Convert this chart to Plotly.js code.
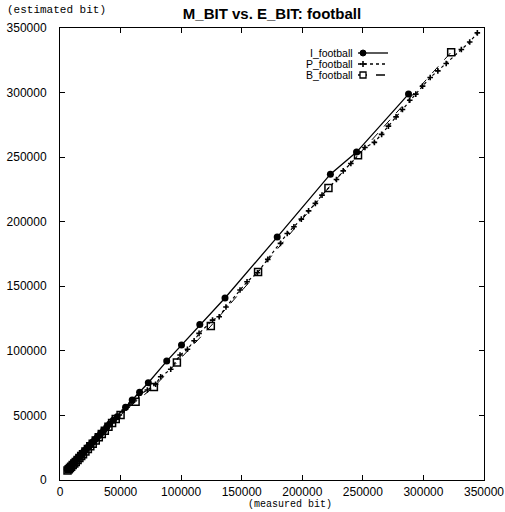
<!DOCTYPE html>
<html>
<head>
<meta charset="utf-8">
<script src="https://cdn.plot.ly/plotly-3.0.1.min.js"></script>
<style>
  html, body { margin: 0; padding: 0; background: #fff; }
  #chart { width: 505px; height: 512px; }
</style>
</head>
<body>
<div id="chart"></div>
<script>
// Measured vs. estimated bit counts for the football sequence, per picture type.
const seriesNames = ["I_football", "P_football", "B_football"];

const iMeasured = [6000, 7000, 8000, 9000, 10000, 11000, 12000, 13500, 15000, 16500, 18000, 19500,
  21000, 23000, 25000, 27000, 29000, 31000, 33500, 36000, 38500, 41000, 44000, 47200, 54100,
  59600, 65700, 72900, 88100, 100300, 115400, 136200, 179300, 223200, 244800, 287700];
const iEstimated = [8400, 9300, 10300, 11200, 12300, 13200, 14300, 15800, 17200, 18800, 20300, 21800,
  23300, 25300, 27300, 29400, 31300, 33400, 35900, 38300, 40900, 43400, 46300, 49000, 56300,
  61900, 67900, 75300, 92100, 104500, 120500, 140900, 188100, 236800, 253900, 298800];

const pMeasured = [6500, 7500, 8500, 9500, 10500, 12000, 13000, 14500, 16000, 17500, 19000, 20500,
  22500, 24500, 26500, 28500, 30500, 33000, 35500, 38000, 40500, 43000, 46000, 49000, 53000,
  57000, 61000, 65000, 72100, 78900, 83100, 91400, 99100, 105200, 110700, 114800, 125900,
  131400, 137000, 148600, 154400, 163000, 171500, 182000, 187600, 193100, 199200, 205200,
  210800, 216300, 228200, 233800, 240100, 251700, 259500, 265500, 271100, 277400, 282700,
  288700, 293700, 299300, 305600, 311900, 318800, 331300, 338200, 344500];
const pEstimated = [8000, 9000, 10000, 11000, 12000, 13500, 14500, 16000, 17500, 19000, 20500, 22000,
  24000, 26000, 28000, 30000, 32000, 34500, 37000, 39500, 42000, 44500, 47500, 50300, 54200,
  58000, 61900, 65600, 69700, 74100, 80000, 85700, 96800, 101200, 107800, 113500, 123800,
  126400, 134000, 147100, 153500, 160500, 170800, 183200, 190900, 196100, 202000, 208400,
  214200, 220600, 232700, 239400, 245100, 257500, 261400, 267600, 274000, 281200, 286900,
  294100, 298800, 305000, 311700, 316800, 322500, 333300, 339200, 346200];

const bMeasured = [6200, 7200, 8200, 9200, 10500, 11800, 13000, 14500, 16000, 17500, 19000, 21000,
  23000, 25000, 27000, 29500, 32000, 34500, 37000, 40000, 43000, 46000, 50000, 62400, 77500,
  96500, 124500, 163500, 221600, 246000, 322900];
const bEstimated = [7400, 8300, 9300, 10300, 11600, 12800, 14000, 15500, 17000, 18500, 20000, 22000,
  24000, 26100, 28100, 30600, 33100, 35600, 38200, 41200, 44200, 47300, 50300, 60600, 72000,
  91000, 119200, 161000, 226200, 251500, 331300];

const tickValues = [0, 50000, 100000, 150000, 200000, 250000, 300000, 350000];
const tickLabels = ["0", "50000", "100000", "150000", "200000", "250000", "300000", "350000"];

const traces = [
  {
    x: bMeasured, y: bEstimated, name: seriesNames[2], type: "scatter", mode: "lines+markers",
    line: { color: "#000", width: 1, dash: "dash" },
    marker: { symbol: "square-open", size: 7, color: "#000", line: { color: "#000", width: 1.5 } }
  },
  {
    x: pMeasured, y: pEstimated, name: seriesNames[1], type: "scatter", mode: "lines+markers",
    line: { color: "#000", width: 1.2, dash: "dot" },
    marker: { symbol: "cross-thin-open", size: 4, color: "#000", line: { color: "#000", width: 1.6 } }
  },
  {
    x: iMeasured, y: iEstimated, name: seriesNames[0], type: "scatter", mode: "lines+markers",
    line: { color: "#000", width: 1.3 },
    marker: { symbol: "circle", size: 7, color: "#000" }
  }
];

// Plot area geometry in pixels, used to place the key and the axis captions.
const W = 505, H = 512, M = { l: 60, r: 21, t: 28, b: 32 };
const PW = W - M.l - M.r, PH = H - M.t - M.b;
const px = v => (v - M.l) / PW;
const py = v => (H - M.b - v) / PH;

// Key: names right-aligned, with the line sample drawn to their right.
const keyRows = [53, 64, 75];
const keyTextRight = 355, keyLine0 = 358, keyLine1 = 388, keyMark = 363;
const keyDash = ["solid", "dot", "dash"];

const annotations = [
  {
    text: "(estimated bit)", xref: "paper", yref: "paper", x: px(5), y: py(10),
    xanchor: "left", yanchor: "middle", showarrow: false,
    font: { family: "Liberation Mono, DejaVu Sans Mono, monospace", size: 11, color: "#000" }
  },
  {
    text: "(measured bit)", xref: "paper", yref: "paper", x: px(290), y: py(505),
    xanchor: "center", yanchor: "middle", showarrow: false,
    font: { family: "Liberation Mono, DejaVu Sans Mono, monospace", size: 10, color: "#000" }
  }
];
const shapes = [];
seriesNames.forEach((name, i) => {
  const yy = keyRows[i];
  annotations.push({
    text: name, xref: "paper", yref: "paper", x: px(keyTextRight), y: py(yy),
    xanchor: "right", yanchor: "middle", showarrow: false,
    font: { family: "Liberation Sans, Arial, sans-serif", size: 10.5, color: "#000" }
  });
  shapes.push({
    type: "line", xref: "paper", yref: "paper",
    x0: px(keyLine0), x1: px(keyLine1), y0: py(yy), y1: py(yy),
    line: { color: "#000", width: 1.3, dash: keyDash[i] }
  });
});
// key symbols
shapes.push({
  type: "circle", xref: "paper", yref: "paper", fillcolor: "#000",
  x0: px(keyMark - 3), x1: px(keyMark + 3), y0: py(keyRows[0] + 3), y1: py(keyRows[0] - 3),
  line: { color: "#000", width: 1 }
});
shapes.push({
  type: "line", xref: "paper", yref: "paper",
  x0: px(keyMark - 3), x1: px(keyMark + 3), y0: py(keyRows[1]), y1: py(keyRows[1]),
  line: { color: "#000", width: 1.6 }
});
shapes.push({
  type: "line", xref: "paper", yref: "paper",
  x0: px(keyMark), x1: px(keyMark), y0: py(keyRows[1] + 3), y1: py(keyRows[1] - 3),
  line: { color: "#000", width: 1.6 }
});
shapes.push({
  type: "rect", xref: "paper", yref: "paper", fillcolor: "#fff",
  x0: px(keyMark - 3), x1: px(keyMark + 3), y0: py(keyRows[2] + 3), y1: py(keyRows[2] - 3),
  line: { color: "#000", width: 1.3 }
});

const axisCommon = {
  range: [0, 350000], tickvals: tickValues, ticktext: tickLabels,
  showgrid: false, zeroline: false, showline: true, linecolor: "#000", linewidth: 1,
  mirror: "ticks", ticks: "inside", ticklen: 5, tickcolor: "#000", tickwidth: 1,
  tickfont: { family: "Liberation Sans, Arial, sans-serif", size: 12, color: "#000" }
};

const layout = {
  width: W, height: H,
  margin: M,
  paper_bgcolor: "#fff", plot_bgcolor: "#fff",
  showlegend: false,
  title: {
    text: "<b>M_BIT vs. E_BIT: football</b>",
    font: { family: "Liberation Sans, Arial, sans-serif", size: 15, color: "#000" },
    xref: "paper", x: 0.5, xanchor: "center",
    yref: "container", y: 1 - 14 / H, yanchor: "middle"
  },
  xaxis: Object.assign({}, axisCommon, { ticklabelstandoff: 1 }),
  yaxis: Object.assign({}, axisCommon, { ticklabelstandoff: 10 }),
  annotations: annotations,
  shapes: shapes
};

Plotly.newPlot("chart", traces, layout, { displayModeBar: false, staticPlot: true });
</script>
</body>
</html>
